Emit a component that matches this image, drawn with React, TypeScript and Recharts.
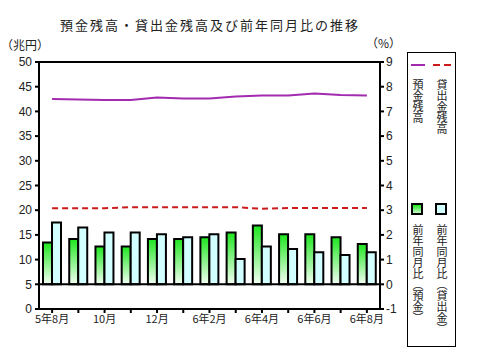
import React from 'react';
import { ComposedChart, Bar, Line, XAxis, YAxis, ReferenceLine } from 'recharts';

// months shown along the x axis (only every other one is labelled)
const months = ['5年8月', '9月', '10月', '11月', '12月', '6年1月', '6年2月', '3月', '6年4月', '5月', '6年6月', '7月', '6年8月'];
const shownLabels = ['5年8月', '10月', '12月', '6年2月', '6年4月', '6年6月', '6年8月'];

// balances (兆円, left axis)
const depositBalance = [42.5, 42.4, 42.3, 42.3, 42.8, 42.6, 42.6, 43.0, 43.2, 43.2, 43.6, 43.3, 43.2];
const loanBalance = [20.4, 20.4, 20.4, 20.6, 20.6, 20.6, 20.6, 20.6, 20.3, 20.45, 20.45, 20.45, 20.45];

// year-on-year change (%, right axis)
const depositYoY = [1.69, 1.83, 1.53, 1.53, 1.83, 1.83, 1.9, 2.1, 2.38, 2.03, 2.03, 1.9, 1.63];
const loanYoY = [2.5, 2.3, 2.1, 2.1, 2.03, 1.9, 2.03, 1.02, 1.53, 1.43, 1.3, 1.19, 1.3];

const leftTicks = [0, 5, 10, 15, 20, 25, 30, 35, 40, 45, 50];
const rightTicks = [-1, 0, 1, 2, 3, 4, 5, 6, 7, 8, 9];

const data = months.map((m, i) => ({
  month: m,
  deposit: depositBalance[i],
  loan: loanBalance[i],
  depositYoY: depositYoY[i],
  loanYoY: loanYoY[i],
}));

const PURPLE = '#a22bb0';
const RED = '#cc1a1a';
const JP = '"Noto Sans CJK JP", sans-serif';
const NUM = '"Liberation Sans", Arial, sans-serif';

const vText: React.CSSProperties = {
  position: 'absolute',
  writingMode: 'vertical-rl',
  fontFamily: JP,
  fontSize: 11,
  lineHeight: '12px',
  color: '#222',
};

export default function App() {
  const tickStyle = { fontFamily: NUM, fontSize: 12, fill: '#222' };
  return (
    <div style={{ position: 'absolute', left: 0, top: 0, width: 478, height: 361, background: '#fff' }}>
      <div
        style={{
          position: 'absolute',
          left: 0,
          width: 420,
          top: 15,
          textAlign: 'center',
          fontFamily: JP,
          fontSize: 13,
          letterSpacing: 2,
          color: '#222',
        }}
      >
        預金残高・貸出金残高及び前年同月比の推移
      </div>
      <div style={{ position: 'absolute', left: 1, top: 36, fontFamily: JP, fontSize: 12, color: '#222' }}>（兆円）</div>
      <div style={{ position: 'absolute', left: 366, top: 34, fontFamily: JP, fontSize: 12, color: '#222' }}>（%）</div>

      <ComposedChart
        width={478}
        height={361}
        data={data}
        margin={{ top: 62, right: 68, bottom: 22, left: 0 }}
        barGap={0}
      >
        <defs>
          <linearGradient id="greenFill" x1="0" y1="0" x2="0" y2="1">
            <stop offset="0%" stopColor="#1ee61e" />
            <stop offset="100%" stopColor="#f4fff4" />
          </linearGradient>
        </defs>
        <XAxis
          dataKey="month"
          interval={0}
          tickFormatter={(v: string) => (shownLabels.includes(v) ? v : '')}
          axisLine={{ stroke: '#000', strokeWidth: 2 }}
          tickLine={{ stroke: '#000', strokeWidth: 2 }}
          tickSize={4}
          tickMargin={2}
          height={30}
          tick={{ fontFamily: JP, fontSize: 11, fill: '#222' }}
        />
        <YAxis
          yAxisId="left"
          domain={[0, 50]}
          ticks={leftTicks}
          interval={0}
          width={39}
          axisLine={{ stroke: '#000', strokeWidth: 2 }}
          tickLine={{ stroke: '#000', strokeWidth: 2 }}
          tickSize={4}
          tickMargin={3}
          tick={tickStyle}
        />
        <YAxis
          yAxisId="right"
          orientation="right"
          domain={[-1, 9]}
          ticks={rightTicks}
          interval={0}
          width={30}
          axisLine={{ stroke: '#000', strokeWidth: 2 }}
          tickLine={{ stroke: '#000', strokeWidth: 2 }}
          tickSize={4}
          tickMargin={2}
          tick={tickStyle}
        />
        <ReferenceLine yAxisId="left" y={50} stroke="#000" strokeWidth={2} />
        <Bar
          yAxisId="right"
          dataKey="depositYoY"
          barSize={9}
          fill="url(#greenFill)"
          stroke="#000"
          strokeWidth={2}
          isAnimationActive={false}
        />
        <Bar
          yAxisId="right"
          dataKey="loanYoY"
          barSize={9}
          fill="#d2ffff"
          stroke="#000"
          strokeWidth={2}
          isAnimationActive={false}
        />
        <ReferenceLine yAxisId="right" y={0} stroke="#000" strokeWidth={2} />
        <Line
          yAxisId="left"
          dataKey="deposit"
          stroke={PURPLE}
          strokeWidth={2}
          dot={false}
          type="linear"
          isAnimationActive={false}
        />
        <Line
          yAxisId="left"
          dataKey="loan"
          stroke={RED}
          strokeWidth={2}
          strokeDasharray="6 4"
          dot={false}
          type="linear"
          isAnimationActive={false}
        />
      </ComposedChart>

      {/* legend box */}
      <div
        style={{
          position: 'absolute',
          left: 407,
          top: 52,
          width: 49,
          height: 295,
          border: '1px solid #000',
          boxSizing: 'border-box',
        }}
      />
      <div style={{ position: 'absolute', left: 411, top: 64, width: 14, height: 2, background: PURPLE }} />
      <div style={{ position: 'absolute', left: 433, top: 64, width: 7, height: 2, background: RED }} />
      <div style={{ position: 'absolute', left: 444, top: 64, width: 7, height: 2, background: RED }} />
      <div style={{ ...vText, left: 412, top: 79 }}>預金残高</div>
      <div style={{ ...vText, left: 436, top: 79 }}>貸出金残高</div>
      <div
        style={{
          position: 'absolute',
          left: 411,
          top: 203,
          width: 12,
          height: 12,
          border: '2px solid #000',
          boxSizing: 'border-box',
          background: 'linear-gradient(#1ee61e, #c8f8c8)',
        }}
      />
      <div
        style={{
          position: 'absolute',
          left: 435,
          top: 203,
          width: 12,
          height: 12,
          border: '2px solid #000',
          boxSizing: 'border-box',
          background: '#d2ffff',
        }}
      />
      <div style={{ ...vText, left: 412, top: 224 }}>前年同月比（預金）</div>
      <div style={{ ...vText, left: 436, top: 224 }}>前年同月比（貸出金）</div>
    </div>
  );
}
